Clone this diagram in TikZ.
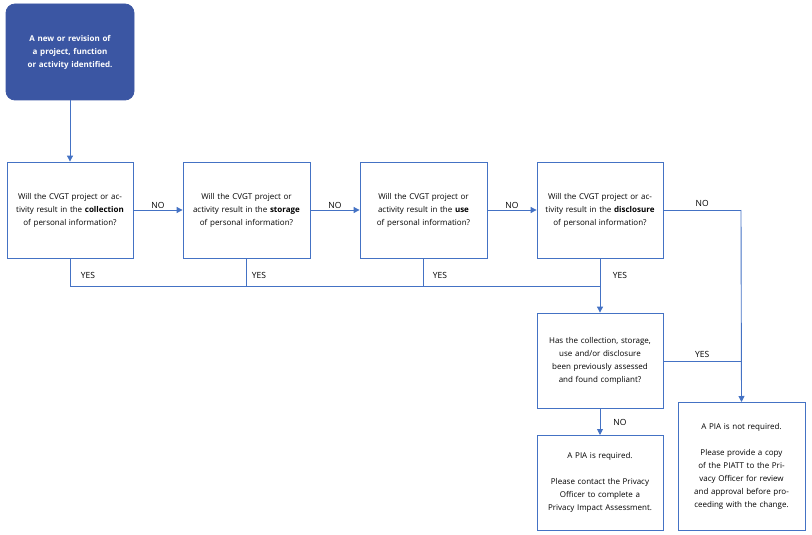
\documentclass[tikz,border=0pt]{standalone}
\usepackage{fontspec}
\setmainfont{Open Sans}
\usetikzlibrary{arrows.meta}
\definecolor{ln}{HTML}{4472C4}
\definecolor{dk}{HTML}{3B56A3}
\begin{document}
\begin{tikzpicture}[x=1pt,y=-1pt,
 box/.style={draw=ln,line width=0.8pt,fill=white,align=center,font=\fontsize{8}{13}\selectfont,text width=#1,inner sep=0pt},
 box/.default=112pt,
 con/.style={draw=ln,line width=0.9pt},
 arr/.style={con,-{Triangle[length=6pt,width=6pt]}},
 lab/.style={font=\fontsize{8.5}{10}\selectfont,inner sep=1pt}]
\useasboundingbox (0,0) rectangle (812,535);
\node[box,fill=dk,draw=dk,rounded corners=9pt,text=white,minimum width=128pt,minimum height=96pt,text width=104pt,font=\fontsize{8}{13}\selectfont\bfseries] (s) at (70,52) {A new or revision of a project, function or activity identified.};
\node[box,minimum width=126pt,minimum height=96pt] (q1) at (70,210) {Will the CVGT project or activity result in the \textbf{collection} of personal information?};
\node[box,minimum width=127pt,minimum height=96pt] (q2) at (246.5,210) {Will the CVGT project or activity result in the \textbf{storage} of personal information?};
\node[box,minimum width=127pt,minimum height=96pt] (q3) at (423.5,210) {Will the CVGT project or activity result in the \textbf{use} of personal information?};
\node[box,minimum width=126pt,minimum height=96pt] (q4) at (600,210) {Will the CVGT project or activity result in the \textbf{disclosure} of personal information?};
\node[box,minimum width=126pt,minimum height=95pt] (q5) at (600,360.5) {Has the collection, storage, use and/or disclosure been previously assessed and found compliant?};
\node[box,minimum width=126pt,minimum height=95pt,anchor=north] (r) at (600,435) {A PIA is required.\\[13pt]Please contact the Privacy Officer to complete a Privacy Impact Assessment.};
\node[box,minimum width=127pt,minimum height=128pt,anchor=north] (n) at (741.5,402) {A PIA is not required.\\[13pt]Please provide a copy of the PIATT to the Privacy Officer for review and approval before proceeding with the change.};
\coordinate (j) at (741,210);
\coordinate (k) at (741,361);
\coordinate (y1) at (70,286);
\coordinate (y4) at (600,286);
\draw[arr] (s) -- (q1);
\draw[arr] (q1) -- node[lab,above]{NO} (q2);
\draw[arr] (q2) -- node[lab,above]{NO} (q3);
\draw[arr] (q3) -- node[lab,above]{NO} (q4);
\draw[con] (q4.east) -- node[lab,above=2pt]{NO} (j);
\draw[arr] (j) -- (n.north);
\draw[con] (q1.south) -- (y1) -- (y4);
\draw[con] (q2.south) -- (q2.south |- y1);
\draw[con] (q3.south) -- (q3.south |- y1);
\draw[arr] (q4.south) -- (q5.north);
\draw[con] (q5.east |- k) -- node[lab,above=2pt]{YES} (k);
\draw[arr] (q5) -- (r);
\node[lab] (yl1) at (88,275) {YES};
\node[lab] (yl2) at (259,275) {YES};
\node[lab] (yl3) at (440,275) {YES};
\node[lab] (yl4) at (620,275) {YES};
\node[lab] (nl) at (620,422) {NO};
\end{tikzpicture}
\end{document}
